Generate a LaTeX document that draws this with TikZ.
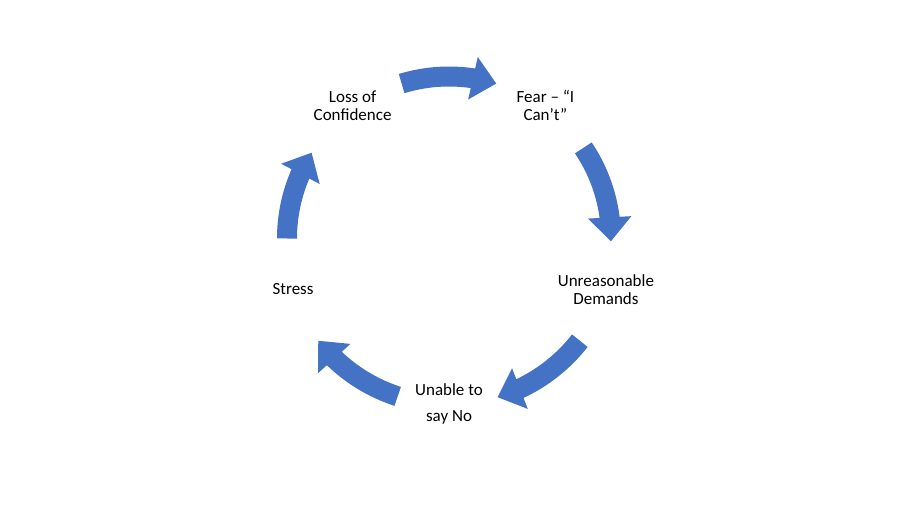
\documentclass[tikz,border=0pt]{standalone}
\usepackage{fontspec}
\setmainfont{Carlito}
\usetikzlibrary{arrows.meta,bending}
\definecolor{cycleblue}{HTML}{4472C4}
\begin{document}
\begin{tikzpicture}[x=1pt, y=1pt,
    cyclearrow/.style={line width=20pt, cycleblue,
        -{Triangle[width=42pt, length=24pt]}},
    stagetext/.style={align=center, font=\fontsize{17}{18}\selectfont}]
    \useasboundingbox (0,0) rectangle (900,506);
    \coordinate (c) at (449,267.5);

    % stages of the cycle
    \node[stagetext] (loss) at ([shift={(126:164)}]c) {Loss of\\Confidence};
    \node[stagetext] (fear) at ([shift={(54:164)}]c) {Fear – “I\\Can’t”};
    \node[stagetext] (demands) at ([shift={(-18:165)}]c) {Unreasonable\\Demands};
    \node[stagetext] (unable) at ([shift={(-90:165)}]c) {Unable to\\[8pt]say No};
    \node[stagetext] (stress) at ([shift={(198:164)}]c) {Stress};

    % arrows between the stages
    \draw[cyclearrow] ([shift={(107:162)}]c) arc[start angle=107, end angle=73, radius=162];
    \draw[cyclearrow] ([shift={(34:162)}]c) arc[start angle=34, end angle=-1, radius=162];
    \draw[cyclearrow] ([shift={(-38:166)}]c) arc[start angle=-38, end angle=-73, radius=166];
    \draw[cyclearrow] ([shift={(-108:166)}]c) arc[start angle=-108, end angle=-142, radius=166];
    \draw[cyclearrow] ([shift={(180:162)}]c) arc[start angle=180, end angle=148, radius=162];
\end{tikzpicture}
\end{document}
